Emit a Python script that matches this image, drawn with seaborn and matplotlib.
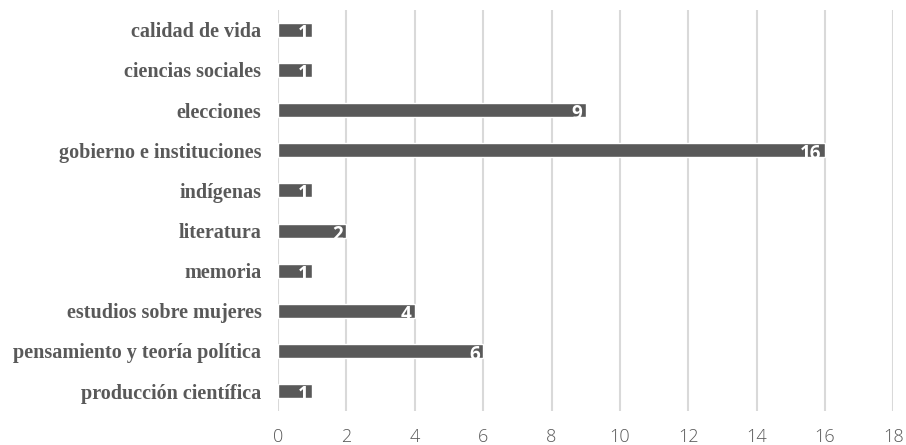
import matplotlib
matplotlib.use("Agg")
import matplotlib.pyplot as plt
import seaborn as sns
import pandas as pd

# Datos del gráfico
temas = ["calidad de vida", "ciencias sociales", "elecciones", "gobierno e instituciones",
         "indígenas", "literatura", "memoria", "estudios sobre mujeres",
         "pensamiento y teoría política", "producción científica"]
cantidades = [1, 1, 9, 16, 1, 2, 1, 4, 6, 1]
ticks_x = [0, 2, 4, 6, 8, 10, 12, 14, 16, 18]

df = pd.DataFrame({"tema": temas, "cantidad": cantidades})

sns.set_style("white")
fig = plt.figure(figsize=(9.06, 4.45), dpi=100)
ax = fig.add_axes([0.307, 0.076, 0.679, 0.902])

sns.barplot(data=df, y="tema", x="cantidad", orient="h", color="#595959",
            saturation=1, width=0.35, ax=ax)

# Líneas de cuadrícula verticales
ax.set_xlim(0, 18)
ax.set_xticks(ticks_x)
ax.grid(axis="x", color="#d9d9d9", linewidth=1.5)
ax.set_axisbelow(True)
for s in ax.spines.values():
    s.set_visible(False)

ax.set_xlabel("")
ax.set_ylabel("")
ax.tick_params(axis="both", length=0)
ax.tick_params(axis="x", pad=12, labelsize=13, labelcolor="#595959")
ax.tick_params(axis="y", pad=12)
for lbl in ax.get_xticklabels():
    lbl.set_fontfamily("Open Sans")
    lbl.set_fontweight("light")
for lbl in ax.get_yticklabels():
    lbl.set_fontfamily("Liberation Serif")
    lbl.set_fontweight("bold")
    lbl.set_fontsize(14.5)
    lbl.set_color("#595959")

# Etiquetas de valores dentro de las barras
for i, v in enumerate(cantidades):
    ax.text(v - 0.1, i + 0.1, str(v), ha="right", va="center",
            color="white", fontsize=13.5, fontweight="bold", fontfamily="Open Sans")

fig.savefig("out.png", dpi=100)
